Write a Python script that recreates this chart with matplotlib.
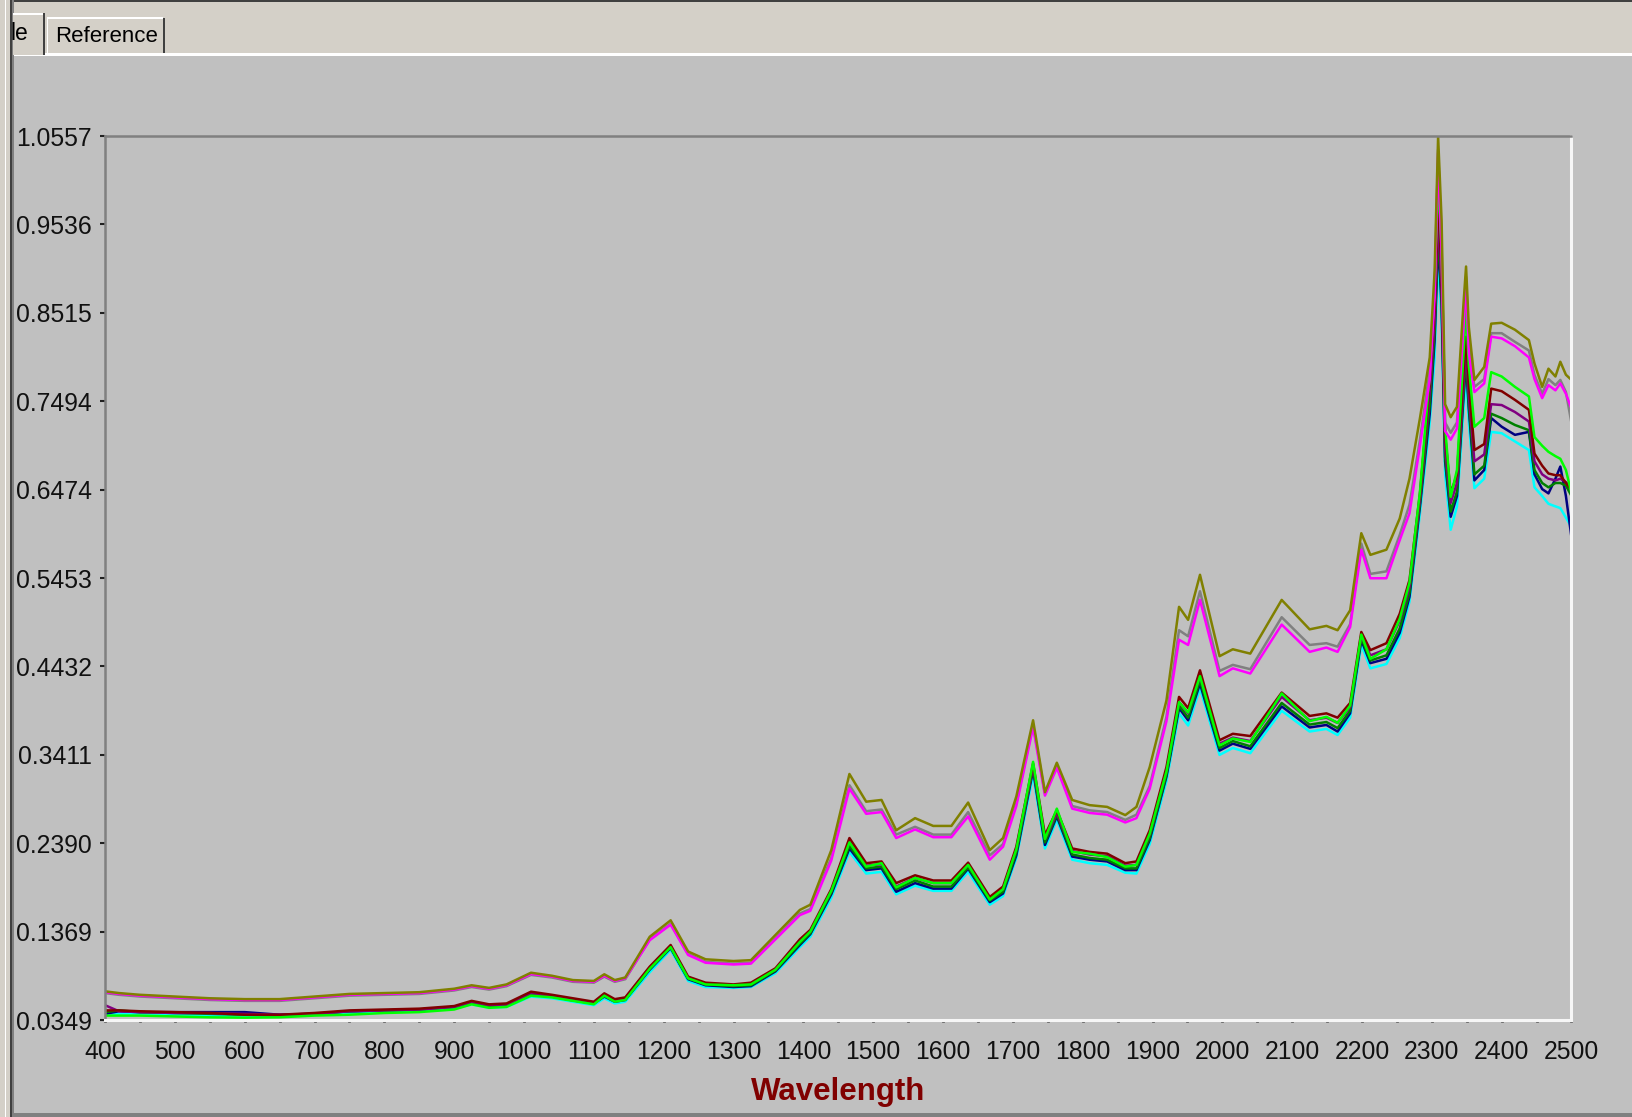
import matplotlib
matplotlib.use('Agg')
import matplotlib.pyplot as plt
from matplotlib.patches import Rectangle
from matplotlib.ticker import MultipleLocator

plt.rcParams['font.family'] = ['Liberation Sans', 'DejaVu Sans']

# wavelength grid (nm) shared by all spectra
wavelength = [400, 420, 450, 500, 550, 600, 650, 700, 750, 800,
              850, 900, 925, 950, 975, 1010, 1040, 1070, 1100, 1115,
              1130, 1145, 1180, 1210, 1235, 1260, 1300, 1325, 1360, 1395,
              1410, 1440, 1466, 1490, 1512, 1533, 1560, 1586, 1612, 1636,
              1667, 1686, 1705, 1729, 1746, 1763, 1785, 1810, 1835, 1861,
              1877, 1896, 1920, 1938, 1951, 1968, 1996, 2015, 2040, 2085,
              2125, 2149, 2165, 2183, 2199, 2212, 2235, 2254, 2268, 2283,
              2297, 2304, 2309, 2314, 2319, 2327, 2336, 2345, 2349, 2353,
              2361, 2375, 2385, 2400, 2419, 2439, 2447, 2458, 2467, 2477,
              2484, 2492, 2500]

olive = [0.068, 0.066, 0.064, 0.062, 0.060, 0.059, 0.059, 0.062, 0.065, 0.066,
         0.067, 0.071, 0.075, 0.072, 0.076, 0.0895, 0.086, 0.081, 0.080, 0.0877,
         0.081, 0.084, 0.131, 0.150, 0.114, 0.105, 0.103, 0.104, 0.133, 0.162,
         0.168, 0.231, 0.319, 0.287, 0.289, 0.254, 0.268, 0.259, 0.259, 0.286,
         0.231, 0.245, 0.293, 0.381, 0.298, 0.332, 0.289, 0.283, 0.281, 0.2715,
         0.281, 0.327, 0.404, 0.512, 0.497, 0.549, 0.455, 0.463, 0.458, 0.520,
         0.486, 0.490, 0.485, 0.508, 0.597, 0.572, 0.578, 0.614, 0.660, 0.730,
         0.800, 0.900, 1.055, 0.958, 0.746, 0.731, 0.743, 0.858, 0.905, 0.835,
         0.774, 0.789, 0.839, 0.840, 0.832, 0.820, 0.793, 0.766, 0.787, 0.778,
         0.795, 0.780, 0.774]

gray = [0.066, 0.064, 0.062, 0.060, 0.058, 0.057, 0.057, 0.060, 0.063, 0.064,
        0.065, 0.069, 0.073, 0.070, 0.074, 0.087, 0.084, 0.079, 0.078, 0.085,
        0.079, 0.082, 0.128, 0.146, 0.111, 0.102, 0.100, 0.101, 0.129, 0.158,
        0.163, 0.222, 0.306, 0.276, 0.278, 0.249, 0.258, 0.249, 0.249, 0.275,
        0.225, 0.238, 0.285, 0.376, 0.296, 0.328, 0.282, 0.277, 0.275, 0.266,
        0.272, 0.305, 0.385, 0.485, 0.478, 0.530, 0.438, 0.445, 0.440, 0.500,
        0.468, 0.470, 0.466, 0.492, 0.585, 0.550, 0.553, 0.595, 0.630, 0.705,
        0.785, 0.880, 1.040, 0.930, 0.725, 0.713, 0.725, 0.840, 0.893, 0.815,
        0.766, 0.775, 0.828, 0.828, 0.818, 0.808, 0.780, 0.758, 0.775, 0.768,
        0.774, 0.760, 0.724]

magenta = [0.067, 0.065, 0.063, 0.061, 0.059, 0.058, 0.058, 0.061, 0.064, 0.065,
           0.066, 0.070, 0.074, 0.071, 0.075, 0.088, 0.085, 0.080, 0.079, 0.086,
           0.080, 0.083, 0.127, 0.145, 0.110, 0.101, 0.099, 0.100, 0.128, 0.156,
           0.161, 0.219, 0.302, 0.273, 0.275, 0.245, 0.255, 0.246, 0.246, 0.270,
           0.220, 0.235, 0.282, 0.373, 0.294, 0.326, 0.279, 0.274, 0.272, 0.263,
           0.268, 0.302, 0.380, 0.474, 0.468, 0.520, 0.432, 0.441, 0.435, 0.4915,
           0.460, 0.465, 0.460, 0.4887, 0.578, 0.545, 0.545, 0.589, 0.620, 0.698,
           0.775, 0.870, 1.036, 0.920, 0.715, 0.705, 0.718, 0.830, 0.885, 0.805,
           0.760, 0.770, 0.824, 0.822, 0.813, 0.800, 0.775, 0.753, 0.768, 0.762,
           0.770, 0.758, 0.741]

lime = [0.040, 0.040, 0.040, 0.039, 0.038, 0.0376, 0.038, 0.040, 0.041, 0.043,
        0.044, 0.047, 0.053, 0.049, 0.050, 0.063, 0.061, 0.057, 0.053, 0.063,
        0.056, 0.058, 0.094, 0.119, 0.083, 0.076, 0.075, 0.076, 0.093, 0.125,
        0.137, 0.184, 0.240, 0.212, 0.216, 0.188, 0.199, 0.193, 0.193, 0.214,
        0.174, 0.186, 0.232, 0.333, 0.244, 0.279, 0.229, 0.227, 0.223, 0.212,
        0.214, 0.250, 0.322, 0.402, 0.390, 0.432, 0.352, 0.360, 0.356, 0.412,
        0.380, 0.385, 0.378, 0.398, 0.480, 0.452, 0.463, 0.498, 0.540, 0.645,
        0.780, 0.880, 1.010, 0.920, 0.720, 0.639, 0.670, 0.800, 0.855, 0.790,
        0.720, 0.730, 0.783, 0.778, 0.766, 0.755, 0.708, 0.698, 0.691, 0.686,
        0.683, 0.670, 0.643]

maroon = [0.046, 0.046, 0.045, 0.044, 0.043, 0.041, 0.041, 0.043, 0.046, 0.047,
          0.048, 0.051, 0.057, 0.053, 0.054, 0.0676, 0.064, 0.060, 0.056, 0.0657,
          0.059, 0.061, 0.0965, 0.1215, 0.085, 0.078, 0.076, 0.078, 0.0946, 0.128,
          0.139, 0.186, 0.245, 0.216, 0.218, 0.193, 0.202, 0.196, 0.196, 0.2166,
          0.177, 0.189, 0.235, 0.331, 0.2485, 0.277, 0.233, 0.229, 0.227, 0.216,
          0.218, 0.254, 0.327, 0.408, 0.395, 0.4387, 0.358, 0.3654, 0.3628, 0.413,
          0.386, 0.389, 0.384, 0.401, 0.483, 0.462, 0.470, 0.504, 0.543, 0.643,
          0.772, 0.860, 0.987, 0.900, 0.710, 0.643, 0.665, 0.780, 0.824, 0.770,
          0.693, 0.700, 0.764, 0.761, 0.751, 0.7395, 0.689, 0.675, 0.666, 0.664,
          0.664, 0.655, 0.647]

purple = [0.052, 0.045, 0.044, 0.043, 0.043, 0.042, 0.041, 0.042, 0.045, 0.046,
          0.047, 0.050, 0.056, 0.052, 0.053, 0.066, 0.063, 0.059, 0.055, 0.064,
          0.058, 0.060, 0.095, 0.120, 0.084, 0.077, 0.075, 0.077, 0.093, 0.126,
          0.137, 0.184, 0.240, 0.213, 0.215, 0.189, 0.199, 0.193, 0.193, 0.214,
          0.175, 0.186, 0.232, 0.328, 0.244, 0.274, 0.230, 0.226, 0.224, 0.213,
          0.214, 0.249, 0.322, 0.402, 0.389, 0.432, 0.354, 0.361, 0.357, 0.408,
          0.381, 0.384, 0.378, 0.396, 0.479, 0.456, 0.463, 0.496, 0.535, 0.637,
          0.760, 0.845, 0.962, 0.880, 0.695, 0.632, 0.655, 0.765, 0.810, 0.755,
          0.680, 0.688, 0.746, 0.745, 0.737, 0.726, 0.680, 0.665, 0.660, 0.658,
          0.660, 0.656, 0.650]

dark_green = [0.044, 0.046, 0.044, 0.043, 0.042, 0.041, 0.040, 0.042, 0.045, 0.046,
              0.047, 0.050, 0.055, 0.051, 0.052, 0.065, 0.062, 0.058, 0.054, 0.063,
              0.057, 0.059, 0.094, 0.119, 0.083, 0.076, 0.074, 0.075, 0.092, 0.123,
              0.135, 0.182, 0.236, 0.210, 0.212, 0.186, 0.196, 0.189, 0.189, 0.211,
              0.173, 0.183, 0.228, 0.326, 0.240, 0.272, 0.226, 0.222, 0.220, 0.210,
              0.210, 0.245, 0.318, 0.398, 0.384, 0.427, 0.349, 0.357, 0.351, 0.401,
              0.376, 0.379, 0.372, 0.392, 0.476, 0.450, 0.456, 0.487, 0.528, 0.632,
              0.745, 0.830, 0.944, 0.870, 0.685, 0.622, 0.645, 0.755, 0.800, 0.745,
              0.665, 0.675, 0.735, 0.730, 0.722, 0.716, 0.670, 0.655, 0.650, 0.655,
              0.655, 0.652, 0.640]

navy = [0.042, 0.045, 0.044, 0.044, 0.044, 0.044, 0.041, 0.042, 0.045, 0.046,
        0.047, 0.050, 0.055, 0.051, 0.052, 0.064, 0.062, 0.0575, 0.054, 0.062,
        0.056, 0.058, 0.093, 0.118, 0.082, 0.075, 0.073, 0.074, 0.091, 0.1215,
        0.134, 0.180, 0.233, 0.208, 0.210, 0.183, 0.193, 0.1866, 0.1866, 0.2097,
        0.171, 0.181, 0.225, 0.3236, 0.237, 0.270, 0.2236, 0.220, 0.218, 0.208,
        0.208, 0.2426, 0.316, 0.395, 0.381, 0.4233, 0.346, 0.354, 0.348, 0.397,
        0.3727, 0.3756, 0.368, 0.389, 0.4736, 0.447, 0.452, 0.482, 0.5235, 0.628,
        0.735, 0.820, 0.937, 0.860, 0.680, 0.616, 0.640, 0.750, 0.794, 0.740,
        0.658, 0.670, 0.730, 0.720, 0.7106, 0.714, 0.665, 0.648, 0.643, 0.660,
        0.674, 0.640, 0.592]

cyan = [0.041, 0.042, 0.042, 0.041, 0.040, 0.039, 0.039, 0.041, 0.043, 0.044,
        0.045, 0.048, 0.053, 0.049, 0.050, 0.062, 0.060, 0.056, 0.052, 0.060,
        0.054, 0.056, 0.090, 0.116, 0.080, 0.073, 0.072, 0.073, 0.089, 0.119,
        0.131, 0.176, 0.229, 0.204, 0.206, 0.180, 0.190, 0.184, 0.184, 0.206,
        0.168, 0.178, 0.222, 0.318, 0.233, 0.266, 0.220, 0.216, 0.214, 0.205,
        0.204, 0.238, 0.311, 0.389, 0.375, 0.418, 0.341, 0.349, 0.343, 0.392,
        0.368, 0.371, 0.364, 0.384, 0.468, 0.441, 0.446, 0.476, 0.518, 0.620,
        0.725, 0.800, 0.920, 0.840, 0.665, 0.601, 0.628, 0.735, 0.780, 0.725,
        0.649, 0.660, 0.714, 0.7125, 0.703, 0.693, 0.650, 0.640, 0.631, 0.628,
        0.626, 0.615, 0.604]

yticks = [0.0349, 0.1369, 0.2390, 0.3411, 0.4432, 0.5453,
          0.6474, 0.7494, 0.8515, 0.9536, 1.0557]
ytick_labels = ['0.0349', '0.1369', '0.2390', '0.3411', '0.4432', '0.5453',
                '0.6474', '0.7494', '0.8515', '0.9536', '1.0557']
xticks = list(range(400, 2501, 100))

# drawing order: lower spectra first
spectra = [
    (cyan, '#00FFFF'),
    (navy, '#000080'),
    (dark_green, '#008000'),
    (purple, '#800080'),
    (maroon, '#800000'),
    (lime, '#00FF00'),
    (gray, '#808080'),
    (magenta, '#FF00FF'),
    (olive, '#808000'),
]

W, H = 1633, 1117
fig = plt.figure(figsize=(W / 100, H / 100), dpi=100, facecolor='#C0C0C0')

# window frame and tab strip, drawn in pixel units
frame = fig.add_axes([0, 0, 1, 1])
frame.set_xlim(0, W)
frame.set_ylim(H, 0)
frame.axis('off')
frame.add_patch(Rectangle((0, 0), W, 54, fc='#D4D0C8', ec='none'))
frame.add_patch(Rectangle((0, 0), W, 2, fc='#404040', ec='none'))
frame.add_patch(Rectangle((0, 53), W, 3, fc='#FFFFFF', ec='none'))
frame.add_patch(Rectangle((0, 0), 10, H, fc='#D4D0C8', ec='none'))
frame.add_patch(Rectangle((5, 0), 1.5, H, fc='#FFFFFF', ec='none'))
frame.add_patch(Rectangle((10, 0), 2.5, H, fc='#404040', ec='none'))
frame.add_patch(Rectangle((12.5, 0), 1.2, H, fc='#808080', ec='none'))
frame.add_patch(Rectangle((12, H - 4), W, 4, fc='#808080', ec='none'))

# tabs
frame.add_patch(Rectangle((13, 13), 32, 42, fc='#D4D0C8', ec='none'))
frame.add_patch(Rectangle((43, 13), 2.5, 42, fc='#404040', ec='none'))
frame.add_patch(Rectangle((13, 13), 30, 1.5, fc='#FFFFFF', ec='none'))
frame.text(11, 34, 'le', fontsize=16.5, ha='left', va='center', color='#000000')
frame.add_patch(Rectangle((47, 17), 118, 36, fc='#D4D0C8', ec='none'))
frame.add_patch(Rectangle((47, 17), 116, 1.5, fc='#FFFFFF', ec='none'))
frame.add_patch(Rectangle((47, 17), 1.5, 36, fc='#FFFFFF', ec='none'))
frame.add_patch(Rectangle((163, 18), 2.5, 35, fc='#404040', ec='none'))
frame.text(55, 37, 'Reference', fontsize=16, ha='left', va='center', color='#000000')

# plot area
x0, x1, y0, y1 = 105, 1571.5, 136, 1020
ax = fig.add_axes([x0 / W, 1 - y1 / H, (x1 - x0) / W, (y1 - y0) / H],
                  facecolor='#C0C0C0')

for values, color in spectra:
    ax.plot(wavelength, values, color=color, lw=1.8)

ax.set_xlim(400, 2500)
ax.set_ylim(0.0349, 1.0557)
ax.set_xticks(xticks)
ax.set_xticklabels([str(t) for t in xticks])
ax.xaxis.set_minor_locator(MultipleLocator(50))
ax.set_yticks(yticks)
ax.set_yticklabels(ytick_labels)

ax.tick_params(axis='x', which='both', direction='out', length=1.5, width=2,
               color='#202020', pad=13, labelsize=17.8, labelcolor='#111111')
ax.tick_params(axis='y', direction='out', length=3.5, width=1.5,
               color='#202020', pad=6, labelsize=17.8, labelcolor='#111111')

for side in ('top', 'left'):
    ax.spines[side].set_color('#808080')
    ax.spines[side].set_linewidth(1.8)
for side in ('bottom', 'right'):
    ax.spines[side].set_color('#F6F6F6')
    ax.spines[side].set_linewidth(2.2)

ax.set_xlabel('Wavelength', fontsize=22.5, fontweight='bold',
              color='#800000', labelpad=9)

fig.savefig('out.png', dpi=100, facecolor=fig.get_facecolor())
